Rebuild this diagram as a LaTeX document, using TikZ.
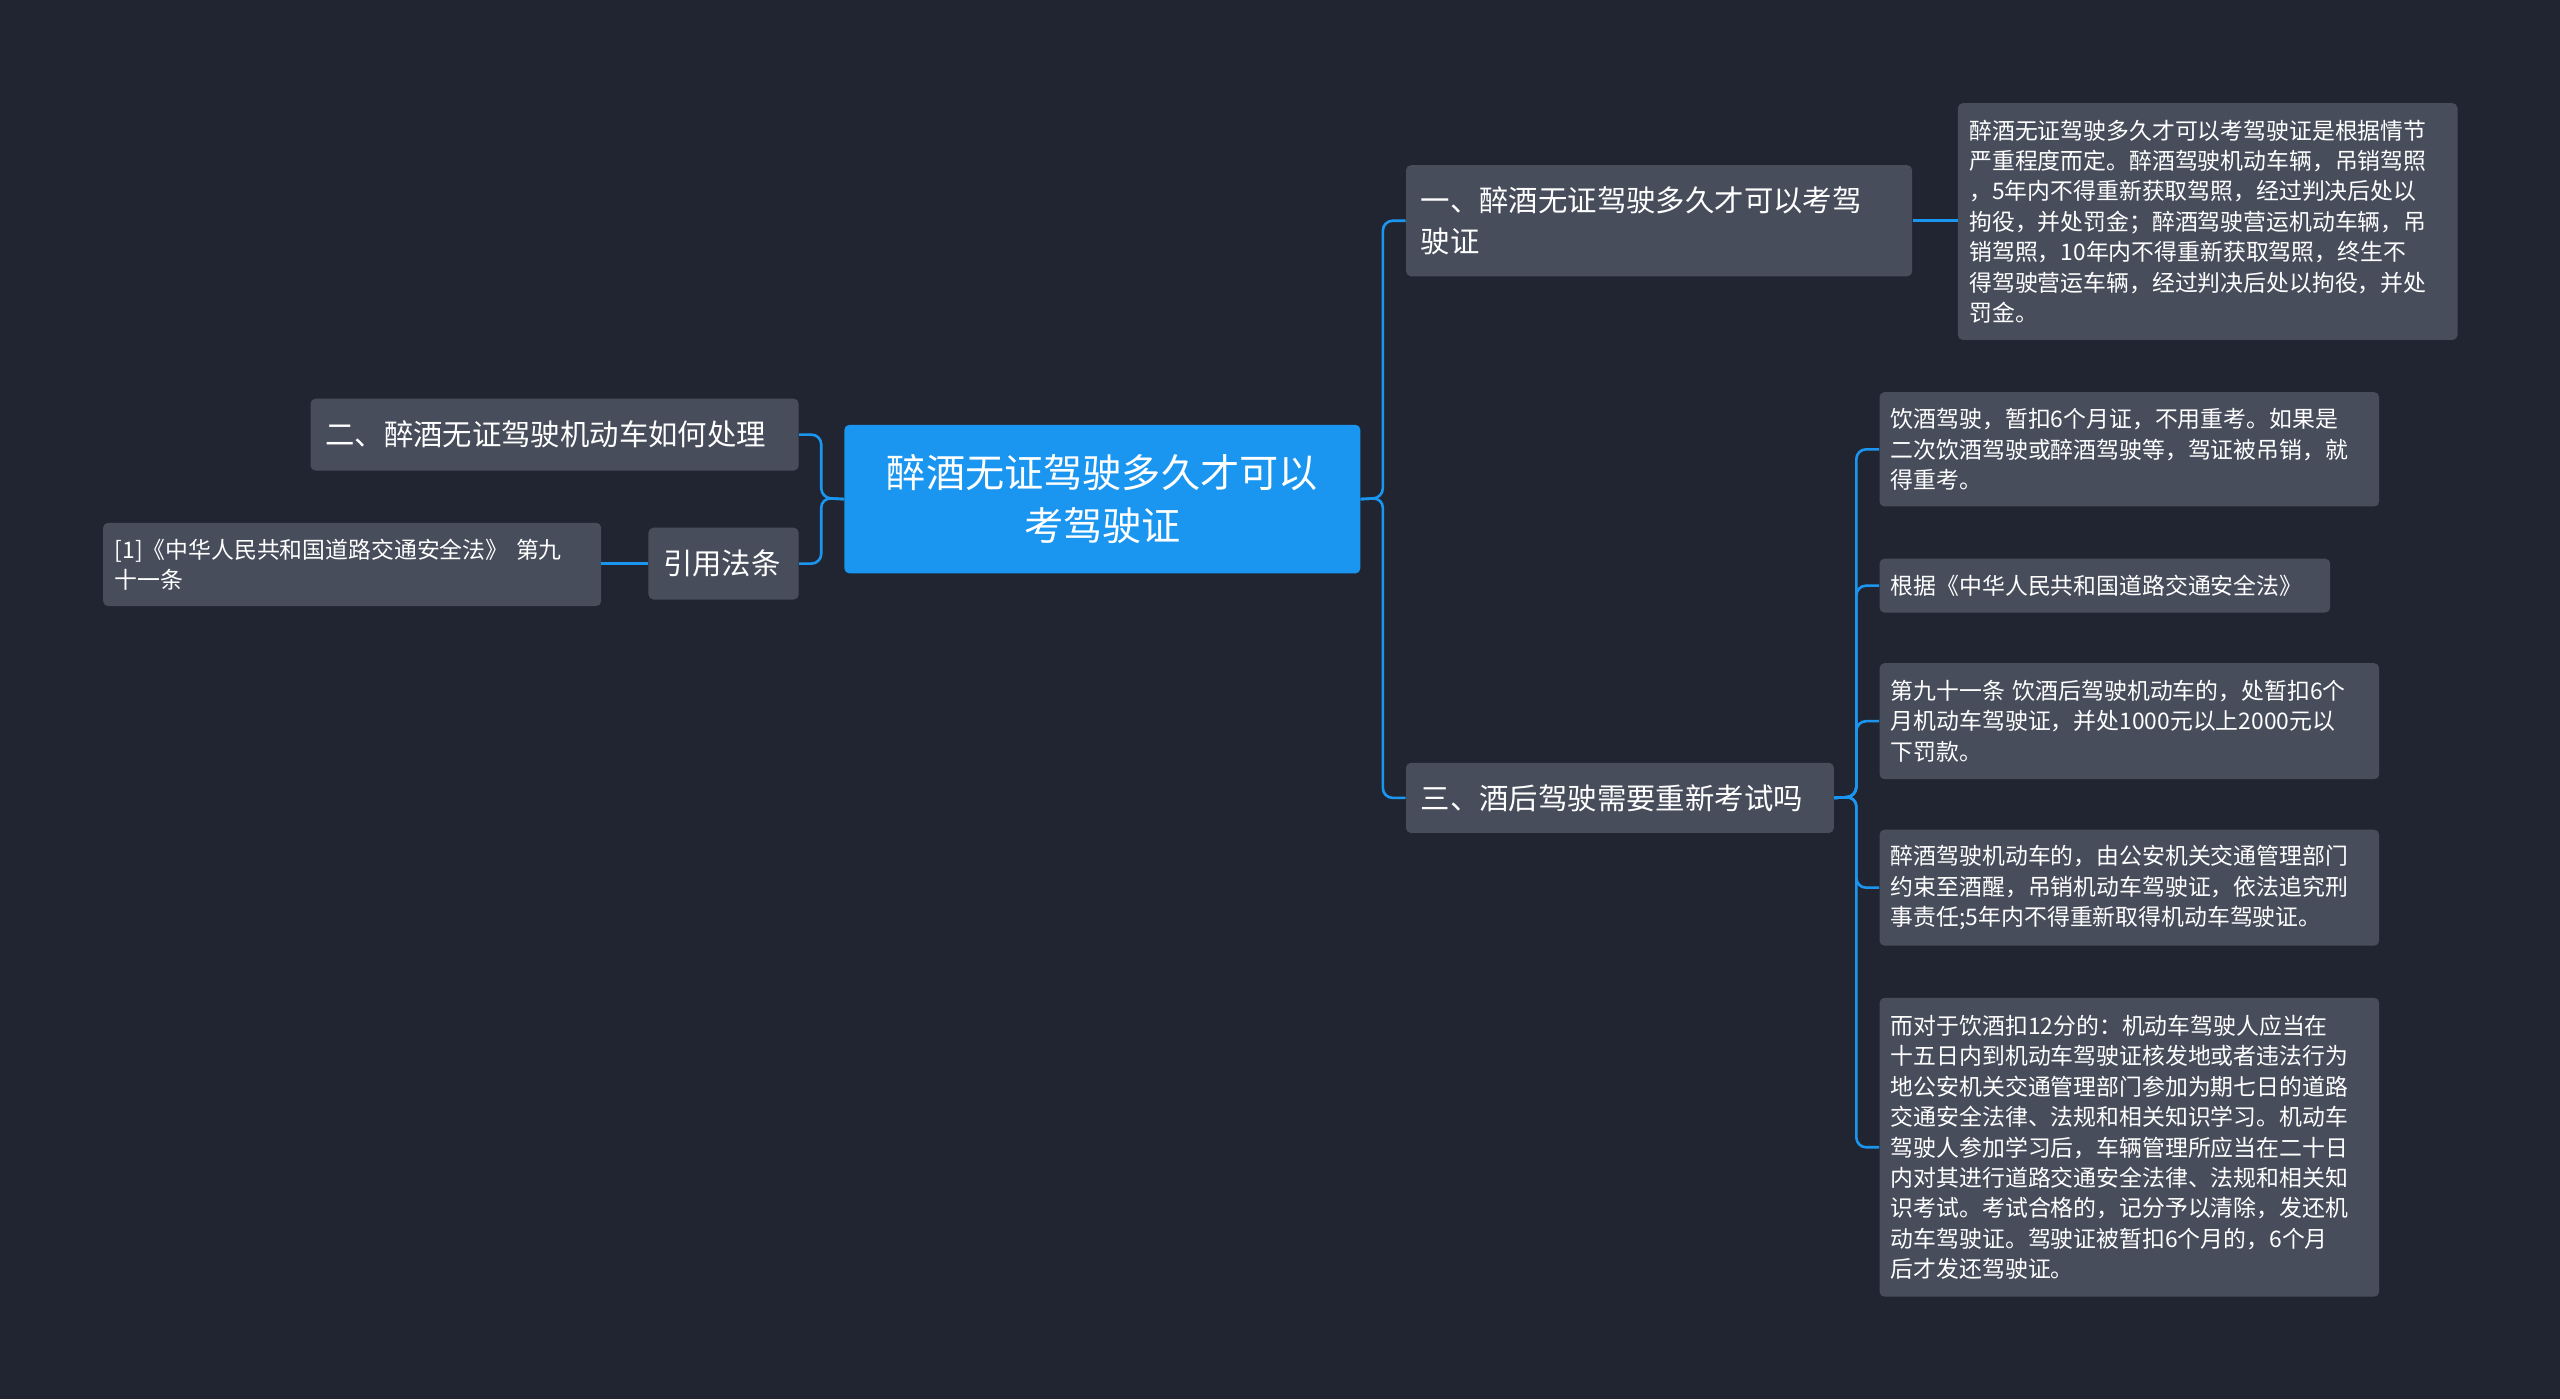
\documentclass[tikz,border=0pt]{standalone}
\usepackage{fontspec}
\setmainfont{Noto Sans CJK SC}
\definecolor{bg}{RGB}{33,37,49}
\definecolor{nd}{RGB}{72,77,92}
\definecolor{bl}{RGB}{26,150,240}
\begin{document}
\begin{tikzpicture}[x=1pt,y=-1pt,
 box/.style={fill=nd,rounded corners=3pt,text=white,anchor=north west,inner xsep=7pt,inner ysep=0pt,align=left},
 lf/.style={box,font=\fontsize{14}{18.6}\selectfont},
 br/.style={box,font=\fontsize{18}{25}\selectfont,inner xsep=9pt},
 ln/.style={draw=bl,line width=1.6pt,rounded corners=6pt}]
\fill[bg] (0,0) rectangle (1568,857);
\useasboundingbox (0,0) rectangle (1568,857);
\node[box,fill=bl,font=\fontsize{24}{33}\selectfont,align=center,text width=302pt,minimum height=91pt,inner xsep=7pt] (c) at (517,260) {醉酒无证驾驶多久才可以\\考驾驶证};
\node[br,text width=292pt,minimum height=68pt] (n1) at (861,101) {一、醉酒无证驾驶多久才可以考驾\\驶证};
\node[lf,text width=292pt,minimum height=145pt] (l1) at (1199,63) {醉酒无证驾驶多久才可以考驾驶证是根据情节\\严重程度而定。醉酒驾驶机动车辆，吊销驾照\\，5年内不得重新获取驾照，经过判决后处以\\拘役，并处罚金；醉酒驾驶营运机动车辆，吊\\销驾照，10年内不得重新获取驾照，终生不\\得驾驶营运车辆，经过判决后处以拘役，并处\\罚金。};
\node[br,text width=244pt,minimum height=43pt] (n3) at (861,467) {三、酒后驾驶需要重新考试吗};
\node[lf,text width=292pt,minimum height=70pt] (a) at (1151,240) {饮酒驾驶，暂扣6个月证，不用重考。如果是\\二次饮酒驾驶或醉酒驾驶等，驾证被吊销，就\\得重考。};
\node[lf,text width=262pt,minimum height=33pt] (b) at (1151,342) {根据《中华人民共和国道路交通安全法》};
\node[lf,text width=292pt,minimum height=71pt] (d) at (1151,406) {第九十一条 饮酒后驾驶机动车的，处暂扣6个\\月机动车驾驶证，并处1000元以上2000元以\\下罚款。};
\node[lf,text width=292pt,minimum height=71pt] (e) at (1151,508) {醉酒驾驶机动车的，由公安机关交通管理部门\\约束至酒醒，吊销机动车驾驶证，依法追究刑\\事责任;5年内不得重新取得机动车驾驶证。};
\node[lf,text width=292pt,minimum height=183pt] (f) at (1151,611) {而对于饮酒扣12分的：机动车驾驶人应当在\\十五日内到机动车驾驶证核发地或者违法行为\\地公安机关交通管理部门参加为期七日的道路\\交通安全法律、法规和相关知识学习。机动车\\驾驶人参加学习后，车辆管理所应当在二十日\\内对其进行道路交通安全法律、法规和相关知\\识考试。考试合格的，记分予以清除，发还机\\动车驾驶证。驾驶证被暂扣6个月的，6个月\\后才发还驾驶证。};
\node[br,text width=281pt,minimum height=44pt] (n2) at (190,244) {二、醉酒无证驾驶机动车如何处理};
\node[br,text width=74pt,minimum height=44pt] (q) at (397,323) {引用法条};
\node[lf,text width=291pt,minimum height=51pt] (r) at (63,320) {[1]《中华人民共和国道路交通安全法》 第九\\十一条};
% connectors
\draw[ln] (c.east) -- (847,305) |- (n1.west);
\draw[ln] (c.east) -- (847,305) |- (n3.west);
\draw[ln] (n1.east) -- (l1.west|-n1.east);
\foreach \t in {a,b,d,e,f}{\draw[ln] (n3.east) -- (1137,488) |- (\t.west);}
\draw[ln] (c.west) -- (503,305) |- (n2.east);
\draw[ln] (c.west) -- (503,305) |- (q.east);
\draw[ln] (q.west) -- (r.east|-q.west);
\end{tikzpicture}
\end{document}
